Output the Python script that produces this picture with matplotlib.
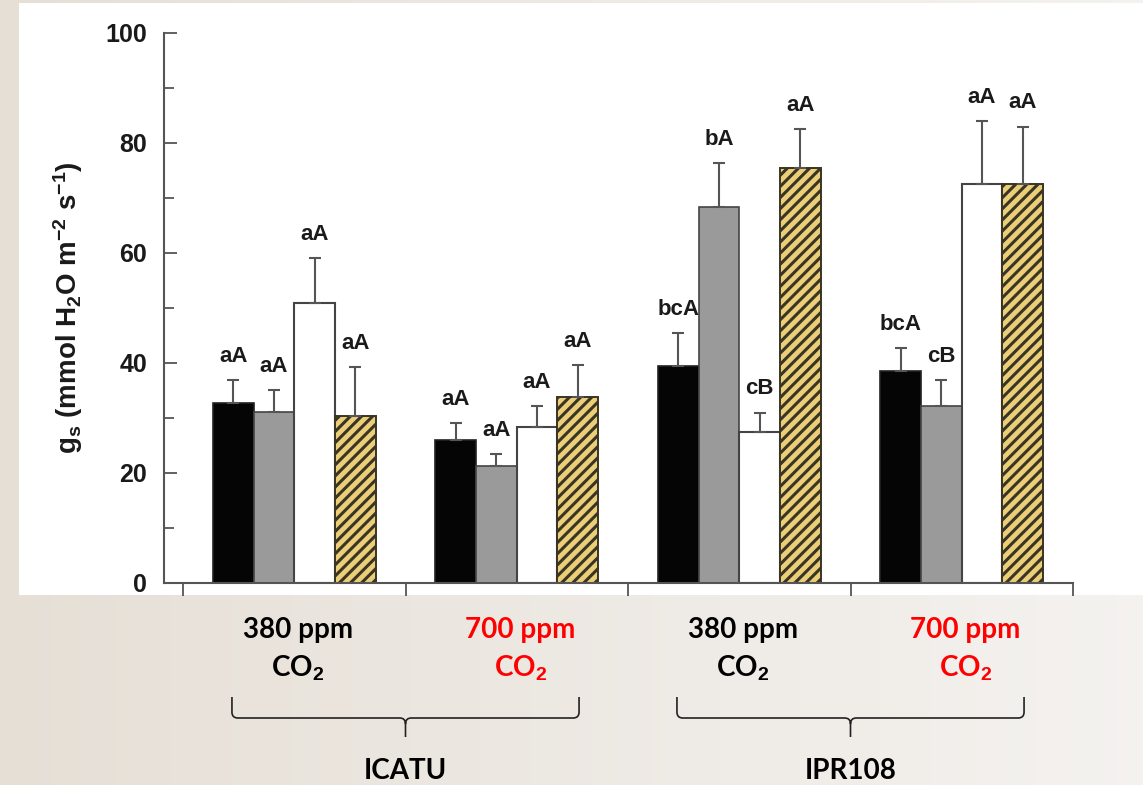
import numpy as np
import matplotlib
matplotlib.use("Agg")
import matplotlib.pyplot as plt
from matplotlib.patches import Rectangle, PathPatch
from matplotlib.path import Path
from matplotlib import transforms

# ---- data -------------------------------------------------------------
groups = ["ICATU 380", "ICATU 700", "IPR108 380", "IPR108 700"]
cultivars = ["ICATU", "IPR108"]
co2_levels = ["380 ppm", "700 ppm"]

gs_black = [32.8, 26.0, 39.5, 38.5]
gs_gray = [31.1, 21.3, 68.4, 32.1]
gs_white = [51.0, 28.4, 27.5, 72.5]
gs_hatched = [30.4, 33.8, 75.5, 72.5]

se_black = [4.1, 3.1, 5.9, 4.2]
se_gray = [4.0, 2.1, 8.0, 4.8]
se_white = [8.1, 3.7, 3.5, 11.5]
se_hatched = [8.8, 5.8, 7.0, 10.5]

letters_black = ["aA", "aA", "bcA", "bcA"]
letters_gray = ["aA", "aA", "bA", "cB"]
letters_white = ["aA", "aA", "cB", "aA"]
letters_hatched = ["aA", "aA", "aA", "aA"]

y_ticks = [0, 20, 40, 60, 80, 100]

# ---- style ------------------------------------------------------------
plt.rcParams["mathtext.fontset"] = "custom"
plt.rcParams["mathtext.rm"] = "Liberation Sans:bold"
plt.rcParams["mathtext.it"] = "Liberation Sans:bold"
plt.rcParams["mathtext.bf"] = "Liberation Sans:bold"
plt.rcParams["hatch.linewidth"] = 2.2

W, H = 1143, 785
fig = plt.figure(figsize=(W / 100, H / 100), dpi=100)

# slide-like beige gradient background with a white panel for the plot
bg = fig.add_axes([0, 0, 1, 1], zorder=-5)
bg.set_axis_off()
t = np.linspace(0, 1, 300)[None, :, None]
c0 = np.array([0.902, 0.875, 0.840])[None, None, :]
c1 = np.array([0.958, 0.950, 0.940])[None, None, :]
grad = np.repeat(c0 + (c1 - c0) * t, 20, axis=0)
bg.imshow(grad, extent=[0, 1, 0, 1], aspect="auto", origin="lower")
bg.set_xlim(0, 1)
bg.set_ylim(0, 1)
bg.add_patch(Rectangle((19 / W, 1 - 595 / H), 1 - 19 / W, (595 - 3) / H,
                       facecolor="white", edgecolor="none"))

ax = fig.add_axes([164 / W, 1 - 583 / H, (1073 - 164) / W, (583 - 33) / H],
                  zorder=2)
ax.set_facecolor("none")

n_series = 4
width = 0.183
x_groups = np.arange(len(groups)) + 0.5

series = [
    (gs_black, se_black, letters_black,
     dict(facecolor="#050505", edgecolor="#222222", linewidth=1.2)),
    (gs_gray, se_gray, letters_gray,
     dict(facecolor="#9a9a9a", edgecolor="#444444", linewidth=1.2)),
    (gs_white, se_white, letters_white,
     dict(facecolor="white", edgecolor="#444444", linewidth=1.5)),
    (gs_hatched, se_hatched, letters_hatched,
     dict(facecolor="#ebcf78", edgecolor="#3a3424", linewidth=1.4, hatch="///")),
]

for i, (vals, errs, lets, style) in enumerate(series):
    xs = x_groups + (i - (n_series - 1) / 2) * width
    ax.bar(xs, vals, width=width, zorder=2, **style)
    ax.errorbar(xs, vals, yerr=[np.zeros(len(vals)), errs], fmt="none",
                ecolor="#555555", elinewidth=1.5, capsize=4.5, capthick=1.5,
                zorder=3)
    for x, v, e, lab in zip(xs, vals, errs, lets):
        ax.annotate(lab, (x, v + e), xytext=(0, 13), textcoords="offset points",
                    ha="center", va="baseline", fontsize=16, fontweight="bold",
                    family="Liberation Sans", color="#1a1a1a")

ax.set_xlim(-19 / 222.5, 4)
ax.set_ylim(0, 100)
for s in ["top", "right"]:
    ax.spines[s].set_visible(False)
for s in ["left", "bottom"]:
    ax.spines[s].set_color("#555555")
    ax.spines[s].set_linewidth(1.5)

ax.set_yticks(y_ticks)
ax.set_yticks([10, 30, 50, 70, 90], minor=True)
ax.tick_params(axis="y", which="major", direction="in", length=9, width=1.3,
               color="#555555", pad=12)
ax.tick_params(axis="y", which="minor", direction="in", length=7, width=1.3,
               color="#555555")
ax.set_xticks(np.arange(len(groups) + 1))
ax.set_xticklabels([])
ax.tick_params(axis="x", direction="out", length=9, width=1.3, color="#555555")
for lbl in ax.get_yticklabels():
    lbl.set_fontfamily("Liberation Sans")
    lbl.set_fontweight("bold")
    lbl.set_fontsize(18)
    lbl.set_color("#1a1a1a")

ax.set_ylabel(r"g$_\mathrm{s}$ (mmol H$_2$O m$^{-2}$ s$^{-1}$)",
              family="Liberation Sans", fontweight="bold", fontsize=20,
              color="#1a1a1a", labelpad=15)

# ---- CO2 level labels, braces and cultivar names below the axes ------
blend = transforms.blended_transform_factory(ax.transData, fig.transFigure)


def fy(py):
    return 1 - py / H


for g, x in enumerate(x_groups):
    level = co2_levels[g % 2]
    col = "#ff0000" if g % 2 else "#000000"
    fig.text(x + 0.015, fy(630), level, transform=blend, ha="center",
             va="center", fontsize=20, fontweight="bold", family="Lato",
             color=col)
    fig.text(x + 0.015, fy(668), r"CO$_2$", transform=blend, ha="center",
             va="center", fontsize=20, fontweight="bold", family="Lato",
             color=col)


def px(xd):
    return ax.transData.transform((xd, 0))[0]


def brace(x_left, x_right, x_mid):
    xl, xr, xc = px(x_left), px(x_right), px(x_mid)
    r = 6
    y_top, y_mid, y_tip = 697, 718, 737
    verts = [
        (xl, y_top), (xl, y_mid - r),
        (xl, y_mid - 2), (xl + 2, y_mid), (xl + r, y_mid),
        (xc - r, y_mid),
        (xc - 2, y_mid), (xc, y_mid + 2), (xc, y_mid + r),
        (xc, y_tip),
        (xc, y_mid + r),
        (xc, y_mid + 2), (xc + 2, y_mid), (xc + r, y_mid),
        (xr - r, y_mid),
        (xr - 2, y_mid), (xr, y_mid - 2), (xr, y_mid - r),
        (xr, y_top),
    ]
    codes = [Path.MOVETO, Path.LINETO,
             Path.CURVE4, Path.CURVE4, Path.CURVE4,
             Path.LINETO,
             Path.CURVE4, Path.CURVE4, Path.CURVE4,
             Path.LINETO,
             Path.MOVETO,
             Path.CURVE4, Path.CURVE4, Path.CURVE4,
             Path.LINETO,
             Path.CURVE4, Path.CURVE4, Path.CURVE4,
             Path.LINETO]
    verts = [(vx / W, fy(vy)) for vx, vy in verts]
    fig.add_artist(PathPatch(Path(verts, codes), transform=fig.transFigure,
                             facecolor="none", edgecolor="#222222",
                             linewidth=1.2))


for k, name in enumerate(cultivars):
    g0 = 2 * k
    brace(g0 + 0.22, g0 + 1.78, g0 + 1.0)
    fig.text(g0 + 1.0, fy(771), name, transform=blend, ha="center",
             va="center", fontsize=20, fontweight="bold", family="Lato",
             color="#000000")

fig.savefig("out.png", dpi=100)
